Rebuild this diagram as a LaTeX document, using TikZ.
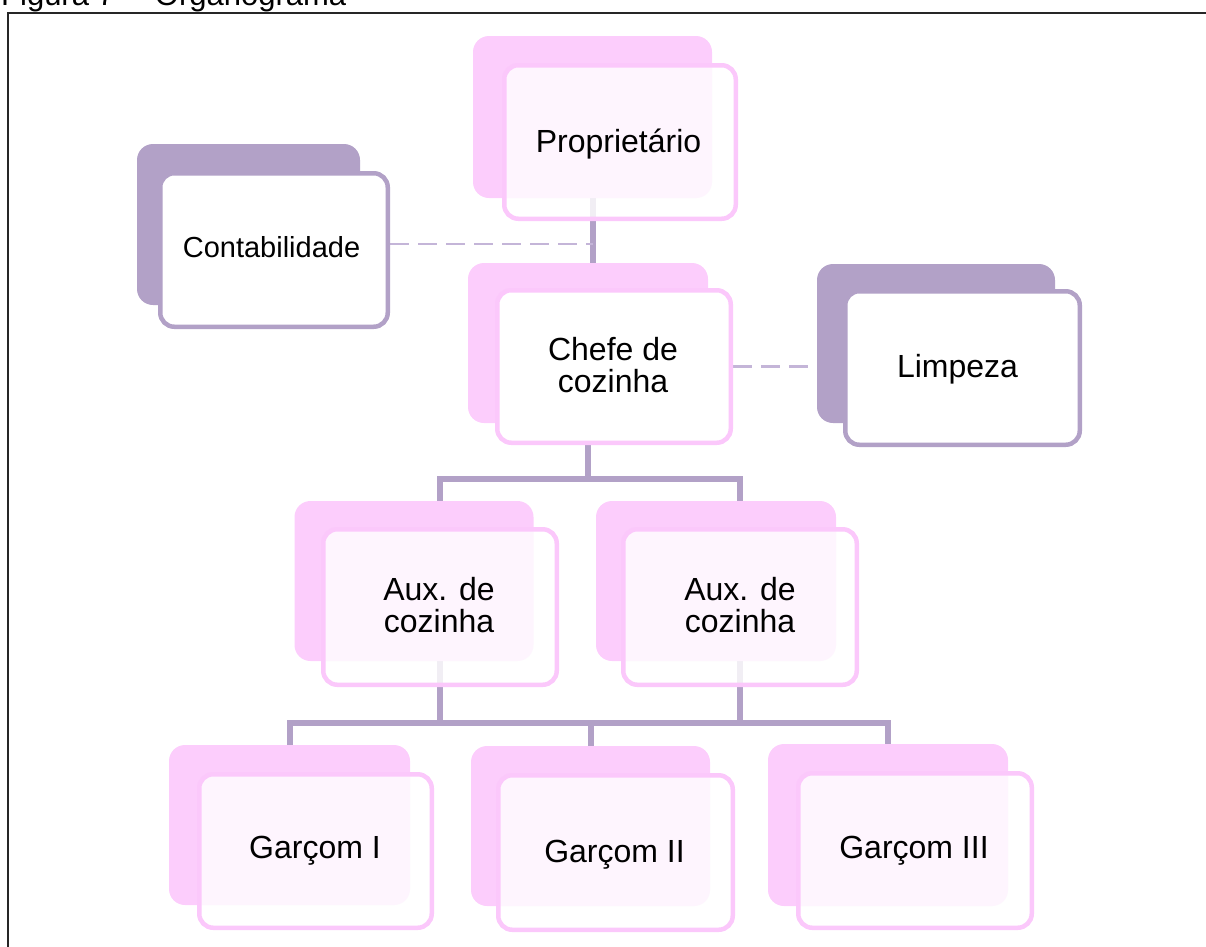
\documentclass[tikz,border=0pt]{standalone}
\usepackage{fontspec}
\setmainfont{Liberation Sans}
\definecolor{pinkback}{RGB}{252,205,252}
\definecolor{pinkline}{RGB}{251,200,251}
\definecolor{lav}{RGB}{178,161,199}
\definecolor{lavdash}{RGB}{196,181,216}
\pgfdeclarelayer{bg}
\pgfsetlayers{bg,main}
\tikzset{
  backP/.style={fill=pinkback, draw=none, rounded corners=16pt, inner sep=0pt},
  backL/.style={fill=lav, draw=none, rounded corners=16pt, inner sep=0pt},
  frontP/.style={fill=white, fill opacity=0.82, draw=pinkline, line width=4.5pt, rounded corners=14pt, inner sep=0pt},
  frontPo/.style={fill=white, draw=pinkline, line width=4.5pt, rounded corners=14pt, inner sep=0pt},
  frontL/.style={fill=white, draw=lav, line width=4.5pt, rounded corners=14pt, inner sep=0pt},
  lbl/.style={anchor=base, inner sep=0pt, font=\fontsize{32}{32}\selectfont, text=black},
  conn/.style={draw=lav, line width=6pt},
  dashconn/.style={draw=lavdash, line width=2.2pt, dash pattern=on 19pt off 9pt},
  frame/.style={draw=black!85, line width=2.5pt}
}
\begin{document}
\begin{tikzpicture}[x=1pt, y=-1pt]
\useasboundingbox (0,0) rectangle (1206,946);
% title and frame
\node[anchor=base west, inner sep=0pt, font=\fontsize{31}{31}\selectfont] (title) at (1,5) {Figura 7 \,–\hspace{9pt}Organograma};
\coordinate (fTL) at (8,13);
\coordinate (fTR) at (1210,13);
\coordinate (fBL) at (8,950);
\draw[frame] (fTR) -- (fTL) -- (fBL);

% Proprietario
\node[backP, minimum width=239pt, minimum height=162pt] (pB) at (592.5,117) {};
\node[frontP, minimum width=231.5pt, minimum height=153.5pt] (pF) at (620,142) {};
\node[lbl] (pT) at (618.5,152) {Proprietário};

% Contabilidade
\node[backL, minimum width=223pt, minimum height=161pt] (kB) at (248.5,224.5) {};
\node[frontL, minimum width=227.5pt, minimum height=153.5pt] (kF) at (274,250) {};
\node[lbl, font=\fontsize{29}{29}\selectfont] (kT) at (271.5,257) {Contabilidade};

% Chefe de cozinha
\node[backP, minimum width=240pt, minimum height=160pt] (cB) at (588,343) {};
\node[frontPo, minimum width=233.5pt, minimum height=152.5pt] (cF) at (614,366.5) {};
\node[lbl] (cT) at (613,360) {\begin{tabular}[t]{@{}c@{}}Chefe de\\cozinha\end{tabular}};

% Limpeza
\node[backL, minimum width=238pt, minimum height=159pt] (lB) at (936,343.5) {};
\node[frontL, minimum width=234.5pt, minimum height=153.5pt] (lF) at (962.5,368) {};
\node[lbl] (lT) at (957.5,377) {Limpeza};

% Aux. de cozinha (left)
\node[backP, minimum width=239pt, minimum height=160pt] (aLB) at (414,581) {};
\node[frontP, minimum width=233.5pt, minimum height=155.5pt] (aLF) at (440,607) {};
\node[lbl] (aLT) at (439,600) {\begin{tabular}[t]{@{}c@{}}Aux. de\\cozinha\end{tabular}};

% Aux. de cozinha (right)
\node[backP, minimum width=240pt, minimum height=160pt] (aRB) at (716,581) {};
\node[frontP, minimum width=233.5pt, minimum height=155.5pt] (aRF) at (740,607) {};
\node[lbl] (aRT) at (740,600) {\begin{tabular}[t]{@{}c@{}}Aux. de\\cozinha\end{tabular}};

% Garcom I
\node[backP, minimum width=241pt, minimum height=160pt] (g1B) at (289.5,825) {};
\node[frontP, minimum width=232.5pt, minimum height=153.5pt] (g1F) at (315.5,851) {};
\node[lbl] (g1T) at (315,858) {Garçom I};

% Garcom II
\node[backP, minimum width=239pt, minimum height=160pt] (g2B) at (590.5,826) {};
\node[frontP, minimum width=234.5pt, minimum height=154.5pt] (g2F) at (615.5,852.5) {};
\node[lbl] (g2T) at (614.5,862) {Garçom II};

% Garcom III
\node[backP, minimum width=240pt, minimum height=162pt] (g3B) at (888,825) {};
\node[frontP, minimum width=233.5pt, minimum height=154.5pt] (g3F) at (915,850.5) {};
\node[lbl] (g3T) at (914,858) {Garçom III};

% connectors (behind the boxes)
\coordinate (kd) at (390,244);
\coordinate (bus1) at (588,479);
\coordinate (bus2) at (589,723);
\begin{pgfonlayer}{bg}
  \draw[conn] (pB.center) -- (pB.center |- cB.center);
  \draw[dashconn] (kd) -- (kd -| pB.center);
  \draw[dashconn] (cF.east) -- (lB.west |- cF.east);
  \draw[conn] (cB.center) -- (bus1);
  \draw[conn] (aLF.center) |- (bus1) -| (aRF.center);
  \draw[conn] (aLF.center) -- (aLF.center |- bus2);
  \draw[conn] (aRF.center) -- (aRF.center |- bus2);
  \draw[conn] (g1B.center) |- (bus2) -| (g3B.center);
  \draw[conn] (g2B.center) -- (g2B.center |- bus2);
\end{pgfonlayer}
\end{tikzpicture}
\end{document}
